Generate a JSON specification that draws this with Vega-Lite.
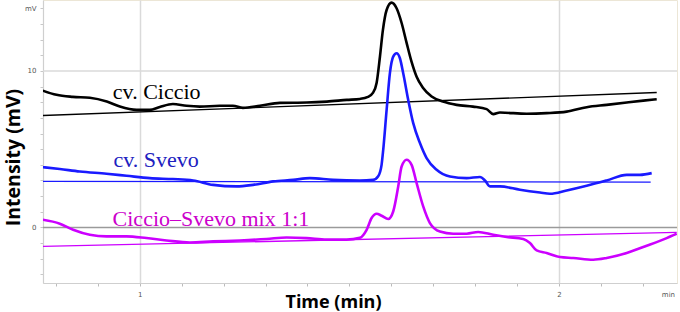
{
  "$schema": "https://vega.github.io/schema/vega-lite/v6.json",
  "width": 634,
  "height": 283,
  "autosize": "none",
  "padding": {"left": 43, "top": 0, "right": 3, "bottom": 29},
  "background": "white",
  "config": {"view": {"stroke": "#ece6d6", "strokeWidth": 1}},
  "datasets": {
    "curves": [
      {"s": "Ciccio", "t": 0.7685, "v": 8.74}, {"s": "Ciccio", "t": 0.8012, "v": 8.47}, {"s": "Ciccio", "t": 0.8401, "v": 8.34}, {"s": "Ciccio", "t": 0.8807, "v": 8.28},
      {"s": "Ciccio", "t": 0.9212, "v": 8.04}, {"s": "Ciccio", "t": 0.9523, "v": 7.72}, {"s": "Ciccio", "t": 0.9921, "v": 7.51}, {"s": "Ciccio", "t": 1.0239, "v": 7.51},
      {"s": "Ciccio", "t": 1.0477, "v": 7.70}, {"s": "Ciccio", "t": 1.0788, "v": 7.89}, {"s": "Ciccio", "t": 1.1115, "v": 7.77}, {"s": "Ciccio", "t": 1.1432, "v": 7.72},
      {"s": "Ciccio", "t": 1.1909, "v": 7.77}, {"s": "Ciccio", "t": 1.2220, "v": 7.77}, {"s": "Ciccio", "t": 1.2458, "v": 7.64}, {"s": "Ciccio", "t": 1.2864, "v": 7.77},
      {"s": "Ciccio", "t": 1.3341, "v": 7.96}, {"s": "Ciccio", "t": 1.3986, "v": 7.98}, {"s": "Ciccio", "t": 1.4463, "v": 8.04}, {"s": "Ciccio", "t": 1.4940, "v": 8.15},
      {"s": "Ciccio", "t": 1.5251, "v": 8.21}, {"s": "Ciccio", "t": 1.5442, "v": 8.34}, {"s": "Ciccio", "t": 1.5561, "v": 8.60}, {"s": "Ciccio", "t": 1.5649, "v": 9.23},
      {"s": "Ciccio", "t": 1.5728, "v": 10.89}, {"s": "Ciccio", "t": 1.5800, "v": 12.62}, {"s": "Ciccio", "t": 1.5888, "v": 13.89}, {"s": "Ciccio", "t": 1.6007, "v": 14.36},
      {"s": "Ciccio", "t": 1.6126, "v": 14.0}, {"s": "Ciccio", "t": 1.6246, "v": 13.06}, {"s": "Ciccio", "t": 1.6365, "v": 11.79}, {"s": "Ciccio", "t": 1.6484, "v": 10.57},
      {"s": "Ciccio", "t": 1.6604, "v": 9.62}, {"s": "Ciccio", "t": 1.6754, "v": 8.92}, {"s": "Ciccio", "t": 1.6962, "v": 8.36}, {"s": "Ciccio", "t": 1.7232, "v": 8.04},
      {"s": "Ciccio", "t": 1.7558, "v": 7.83}, {"s": "Ciccio", "t": 1.7947, "v": 7.72}, {"s": "Ciccio", "t": 1.8275, "v": 7.56}, {"s": "Ciccio", "t": 1.8432, "v": 7.24},
      {"s": "Ciccio", "t": 1.8592, "v": 7.34}, {"s": "Ciccio", "t": 1.9229, "v": 7.26}, {"s": "Ciccio", "t": 1.9706, "v": 7.30}, {"s": "Ciccio", "t": 2.0184, "v": 7.40},
      {"s": "Ciccio", "t": 2.0661, "v": 7.68}, {"s": "Ciccio", "t": 2.1138, "v": 7.83}, {"s": "Ciccio", "t": 2.1616, "v": 7.98}, {"s": "Ciccio", "t": 2.2012, "v": 8.10},
      {"s": "Ciccio", "t": 2.2332, "v": 8.19},
      {"s": "Svevo", "t": 0.7685, "v": 3.85}, {"s": "Svevo", "t": 0.8091, "v": 3.73}, {"s": "Svevo", "t": 0.8568, "v": 3.57}, {"s": "Svevo", "t": 0.9205, "v": 3.43},
      {"s": "Svevo", "t": 0.9683, "v": 3.30}, {"s": "Svevo", "t": 1.0239, "v": 3.15}, {"s": "Svevo", "t": 1.0788, "v": 3.09}, {"s": "Svevo", "t": 1.1272, "v": 3.00},
      {"s": "Svevo", "t": 1.1749, "v": 2.72}, {"s": "Svevo", "t": 1.2308, "v": 2.62}, {"s": "Svevo", "t": 1.2704, "v": 2.72}, {"s": "Svevo", "t": 1.3181, "v": 2.94},
      {"s": "Svevo", "t": 1.3659, "v": 3.04}, {"s": "Svevo", "t": 1.4057, "v": 3.15}, {"s": "Svevo", "t": 1.4613, "v": 3.04}, {"s": "Svevo", "t": 1.5251, "v": 3.00},
      {"s": "Svevo", "t": 1.5568, "v": 3.04}, {"s": "Svevo", "t": 1.5687, "v": 3.27}, {"s": "Svevo", "t": 1.5768, "v": 4.00}, {"s": "Svevo", "t": 1.5807, "v": 4.96},
      {"s": "Svevo", "t": 1.5888, "v": 7.51}, {"s": "Svevo", "t": 1.5967, "v": 9.87}, {"s": "Svevo", "t": 1.6045, "v": 10.91}, {"s": "Svevo", "t": 1.6126, "v": 11.13},
      {"s": "Svevo", "t": 1.6205, "v": 10.81}, {"s": "Svevo", "t": 1.6284, "v": 9.85}, {"s": "Svevo", "t": 1.6403, "v": 8.15}, {"s": "Svevo", "t": 1.6523, "v": 6.66},
      {"s": "Svevo", "t": 1.6683, "v": 5.39}, {"s": "Svevo", "t": 1.6842, "v": 4.43}, {"s": "Svevo", "t": 1.7081, "v": 3.68}, {"s": "Svevo", "t": 1.7399, "v": 3.25},
      {"s": "Svevo", "t": 1.7797, "v": 3.15}, {"s": "Svevo", "t": 1.8115, "v": 3.22}, {"s": "Svevo", "t": 1.8234, "v": 3.00}, {"s": "Svevo", "t": 1.8353, "v": 2.62},
      {"s": "Svevo", "t": 1.8592, "v": 2.62}, {"s": "Svevo", "t": 1.9069, "v": 2.41}, {"s": "Svevo", "t": 1.9547, "v": 2.23}, {"s": "Svevo", "t": 1.9785, "v": 2.15},
      {"s": "Svevo", "t": 2.0184, "v": 2.36}, {"s": "Svevo", "t": 2.0661, "v": 2.66}, {"s": "Svevo", "t": 2.1138, "v": 3.00}, {"s": "Svevo", "t": 2.1616, "v": 3.36},
      {"s": "Svevo", "t": 2.1933, "v": 3.36}, {"s": "Svevo", "t": 2.2212, "v": 3.47},
      {"s": "Mix", "t": 0.7685, "v": 0.49}, {"s": "Mix", "t": 0.8091, "v": 0.24}, {"s": "Mix", "t": 0.8409, "v": -0.15}, {"s": "Mix", "t": 0.8807, "v": -0.47},
      {"s": "Mix", "t": 0.9205, "v": -0.57}, {"s": "Mix", "t": 0.9683, "v": -0.57}, {"s": "Mix", "t": 1.0160, "v": -0.68}, {"s": "Mix", "t": 1.0637, "v": -0.83},
      {"s": "Mix", "t": 1.1193, "v": -0.96}, {"s": "Mix", "t": 1.1749, "v": -0.89}, {"s": "Mix", "t": 1.2387, "v": -0.83}, {"s": "Mix", "t": 1.3024, "v": -0.74},
      {"s": "Mix", "t": 1.3501, "v": -0.64}, {"s": "Mix", "t": 1.3978, "v": -0.68}, {"s": "Mix", "t": 1.4456, "v": -0.78}, {"s": "Mix", "t": 1.4933, "v": -0.78},
      {"s": "Mix", "t": 1.5251, "v": -0.66}, {"s": "Mix", "t": 1.5411, "v": -0.15}, {"s": "Mix", "t": 1.5530, "v": 0.60}, {"s": "Mix", "t": 1.5649, "v": 0.87},
      {"s": "Mix", "t": 1.5768, "v": 0.75}, {"s": "Mix", "t": 1.5926, "v": 0.54}, {"s": "Mix", "t": 1.6045, "v": 1.02}, {"s": "Mix", "t": 1.6165, "v": 2.62},
      {"s": "Mix", "t": 1.6246, "v": 3.89}, {"s": "Mix", "t": 1.6365, "v": 4.32}, {"s": "Mix", "t": 1.6484, "v": 4.00}, {"s": "Mix", "t": 1.6604, "v": 2.83},
      {"s": "Mix", "t": 1.6761, "v": 1.34}, {"s": "Mix", "t": 1.6921, "v": 0.28}, {"s": "Mix", "t": 1.7160, "v": -0.26}, {"s": "Mix", "t": 1.7477, "v": -0.40},
      {"s": "Mix", "t": 1.7797, "v": -0.40}, {"s": "Mix", "t": 1.8074, "v": -0.29}, {"s": "Mix", "t": 1.8432, "v": -0.47}, {"s": "Mix", "t": 1.8752, "v": -0.61},
      {"s": "Mix", "t": 1.9148, "v": -0.74}, {"s": "Mix", "t": 1.9308, "v": -1.00}, {"s": "Mix", "t": 1.9468, "v": -1.47}, {"s": "Mix", "t": 1.9706, "v": -1.63},
      {"s": "Mix", "t": 2.0024, "v": -1.89}, {"s": "Mix", "t": 2.0341, "v": -1.95}, {"s": "Mix", "t": 2.0818, "v": -2.06}, {"s": "Mix", "t": 2.1138, "v": -1.95},
      {"s": "Mix", "t": 2.1616, "v": -1.63}, {"s": "Mix", "t": 2.2093, "v": -1.17}, {"s": "Mix", "t": 2.2570, "v": -0.68}, {"s": "Mix", "t": 2.2809, "v": -0.40}
    ],
    "bases": [
      {"s": "Ciccio", "t": 0.7685, "v": 7.15}, {"s": "Ciccio", "t": 2.2332, "v": 8.62},
      {"s": "Svevo", "t": 0.7685, "v": 2.94}, {"s": "Svevo", "t": 2.2188, "v": 2.90},
      {"s": "Mix", "t": 0.7685, "v": -1.21}, {"s": "Mix", "t": 2.2809, "v": -0.32}
    ],
    "grid": [
      {"v": 0, "g": "zero"}, {"v": 10, "g": "ten"}
    ],
    "labels": [
      {"s": "Ciccio", "t": 0.9356, "v": 8.18, "label": "cv. Ciccio"},
      {"s": "Svevo", "t": 0.9372, "v": 3.89, "label": "cv. Svevo"},
      {"s": "Mix", "t": 0.935, "v": 0.06, "label": "Ciccio–Svevo  mix 1:1"}
    ]
  },
  "layer": [
    {
      "data": {"name": "grid"},
      "mark": {"type": "rule", "strokeWidth": 1.5},
      "encoding": {
        "y": {
          "field": "v", "type": "quantitative",
          "scale": {"domain": [-3.55, 14.53], "nice": false, "zero": false},
          "axis": {
            "values": [-3, -2, -1, 0, 1, 2, 3, 4, 5, 6, 7, 8, 9, 10, 11, 12, 13, 14],
            "tickCount": 40,
            "labelExpr": "datum.value == 0 ? '0' : datum.value == 10 ? '10' : datum.value == 14 ? 'mV' : ''",
            "labelOverlap": false,
            "labelFontSize": 7, "labelColor": "#555", "labelFont": "DejaVu Sans", "labelPadding": 4,
            "tickSize": 3, "tickColor": "#c8c8c8",
            "domainColor": "#cfcfcf", "domainWidth": 1.2,
            "grid": false,
            "title": "Intensity (mV)", "titleFont": "Open Sans", "titleFontSize": 19.5, "titleFontWeight": "bold", "titleColor": "#000",
            "titleAngle": 270, "titleX": -30, "titleY": 157, "titleBaseline": "middle", "titleAlign": "center"
          }
        },
        "stroke": {
          "field": "g", "type": "nominal",
          "scale": {"domain": ["zero", "ten"], "range": ["#9a9a9a", "#dadada"]},
          "legend": null
        }
      }
    },
    {
      "data": {"name": "bases"},
      "mark": {"type": "line", "strokeWidth": 1.3, "clip": true},
      "encoding": {
        "x": {
          "field": "t", "type": "quantitative",
          "scale": {"domain": [0.769, 2.2816], "nice": false, "zero": false},
          "axis": {
            "values": [0.8, 0.9, 1, 1.1, 1.2, 1.3, 1.4, 1.5, 1.6, 1.7, 1.8, 1.9, 2, 2.1, 2.2, 2.26],
            "tickCount": 40,
            "labelExpr": "datum.value == 1 ? '1' : datum.value == 2 ? '2' : datum.value == 2.26 ? 'min' : ''",
            "labelOverlap": false,
            "labelFontSize": 7, "labelColor": "#555", "labelFont": "DejaVu Sans", "labelPadding": 4,
            "tickSize": 3, "tickColor": "#bbb",
            "tickOpacity": {"condition": {"test": "datum.value == 2.26", "value": 0}, "value": 1},
            "domainColor": "#cfcfcf", "domainWidth": 1.2,
            "grid": true, "gridColor": "#dadada", "gridWidth": 1.5,
            "gridOpacity": {"condition": {"test": "datum.value == 1 || datum.value == 2", "value": 1}, "value": 0},
            "title": "Time (min)", "titleFont": "Open Sans", "titleFontSize": 18, "titleFontWeight": "bold", "titleColor": "#000",
            "titleX": 290, "titleY": 24, "titleBaseline": "alphabetic", "titleAlign": "center"
          }
        },
        "y": {"field": "v", "type": "quantitative"},
        "color": {
          "field": "s", "type": "nominal",
          "scale": {"domain": ["Ciccio", "Svevo", "Mix"], "range": ["#000000", "#1a1aff", "#cc00ff"]},
          "legend": null
        }
      }
    },
    {
      "data": {"name": "curves"},
      "mark": {"type": "line", "strokeWidth": 2.6, "interpolate": "monotone", "clip": true},
      "encoding": {
        "x": {"field": "t", "type": "quantitative"},
        "y": {"field": "v", "type": "quantitative"},
        "color": {"field": "s", "type": "nominal", "legend": null}
      }
    },
    {
      "data": {"name": "labels"},
      "mark": {"type": "text", "font": "Liberation Serif", "fontSize": 22, "align": "left", "baseline": "alphabetic"},
      "encoding": {
        "x": {"field": "t", "type": "quantitative"},
        "y": {"field": "v", "type": "quantitative"},
        "text": {"field": "label"},
        "fill": {
          "field": "s", "type": "nominal",
          "scale": {"domain": ["Ciccio", "Svevo", "Mix"], "range": ["#000000", "#2020c0", "#cc00cc"]},
          "legend": null
        }
      }
    }
  ]
}
